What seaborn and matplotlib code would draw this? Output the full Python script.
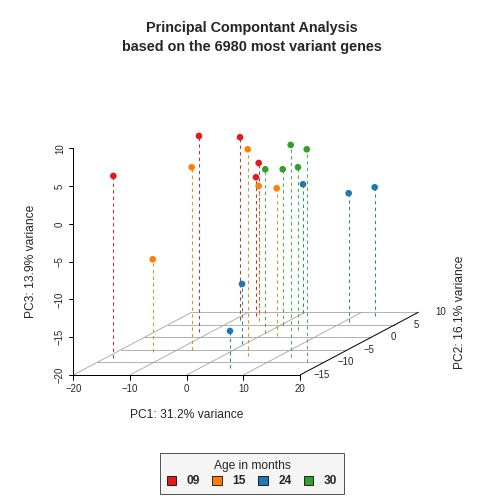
import matplotlib
matplotlib.use("Agg")
import matplotlib.pyplot as plt
from matplotlib.patches import Patch
import pandas as pd
import seaborn as sns

# PCA scores (scatterplot3d style, type="h")
age = ["09", "15", "15", "09", "09", "15", "24", "24", "09", "09",
       "15", "30", "15", "30", "30", "30", "24", "30", "24", "24"]
pc1 = [-18.5, -13.75, -7.44, -12.25, -8.91, 4.44, -0.57, 5.31, -7.94, -7.42,
       -5.28, -0.02, 2.89, 0.29, 12.36, 4.65, -0.03, 16.85, 10.83, 13.52]
pc2 = [-8.34, -5.71, -5.03, 2.27, 6.94, -7.42, -2.63, -12.21, 9.73, 8.53,
       6.54, 1.63, 0.56, 4.94, -7.82, 2.95, 9.61, -9.81, 6.26, 8.53]
pc3 = [4.13, -7.77, 4.18, 5.9, 4.18, 7.36, -12.06, -15.1, -0.15, -1.64,
       -2.13, 1.70, -0.45, 0.61, 8.06, 1.53, -2.93, 8.15, -3.0, -2.97]

age_levels = ["09", "15", "24", "30"]
point_colors = {"09": "#e31a1c", "15": "#ff7f00", "24": "#1f78b4", "30": "#33a02c"}
line_colors = {"09": "#a83c3c", "15": "#c99a2e", "24": "#2f8a8e", "30": "#4fae4f"}

x_ticks = [-20, -10, 0, 10, 20]
y_ticks = [-15, -10, -5, 0, 5, 10]
z_ticks = [-20, -15, -10, -5, 0, 5, 10]

title = "Principal Compontant Analysis\nbased on the 6980 most variant genes"
xlab = "PC1: 31.2% variance"
ylab = "PC2: 16.1% variance"
zlab = "PC3: 13.9% variance"

# oblique projection: y axis goes back and up
KX = 0.835
KZ = 0.332
Y0 = y_ticks[0]
Z0 = z_ticks[0]


def project(x, y, z):
    return x + (y - Y0) * KX, z + (y - Y0) * KZ


def fmt(v):
    return str(v).replace("-", "\u2212")


sns.set_style("white")
plt.rcParams["font.family"] = ["Liberation Sans", "DejaVu Sans"]

fig = plt.figure(figsize=(7, 7), dpi=72)
ax = fig.add_axes([73.33 / 504, 1 - 375 / 504, 345 / 504, 226.7 / 504])
ax.set_xlim(x_ticks[0], x_ticks[-1] + (y_ticks[-1] - Y0) * KX)
ax.set_ylim(z_ticks[0], z_ticks[-1])
ax.axis("off")

grid_kw = dict(color="#a0a0a0", lw=0.8, zorder=1)
# floor grid
for xv in x_ticks[:-1]:
    a = project(xv, y_ticks[0], Z0)
    b = project(xv, y_ticks[-1], Z0)
    ax.plot([a[0], b[0]], [a[1], b[1]], **grid_kw)
for yv in y_ticks[1:]:
    a = project(x_ticks[0], yv, Z0)
    b = project(x_ticks[-1], yv, Z0)
    ax.plot([a[0], b[0]], [a[1], b[1]], **grid_kw)

axis_kw = dict(color="black", lw=1.0, zorder=2, clip_on=False)
# x axis, y axis, z axis
ax.plot([x_ticks[0], x_ticks[-1]], [Z0, Z0], **axis_kw)
a = project(x_ticks[-1], y_ticks[0], Z0)
b = project(x_ticks[-1], y_ticks[-1], Z0)
ax.plot([a[0], b[0]], [a[1], b[1]], **axis_kw)
ax.plot([x_ticks[0], x_ticks[0]], [z_ticks[0], z_ticks[-1]], **axis_kw)

tick_fs = 9.6
for xv in x_ticks:
    ax.plot([xv, xv], [Z0, Z0 - 4.5 / 7.556], **axis_kw)
    ax.annotate(fmt(xv), (xv, Z0), xytext=(0, -13.5), textcoords="offset points",
                ha="center", va="center", fontsize=tick_fs)
for zv in z_ticks:
    ax.plot([x_ticks[0], x_ticks[0] - 4.5 / 5.667], [zv, zv], **axis_kw)
    ax.annotate(fmt(zv), (x_ticks[0], zv), xytext=(-13.5, 0), textcoords="offset points",
                ha="center", va="center", fontsize=tick_fs, rotation=90)
for yv in y_ticks:
    ax.annotate(fmt(yv), project(x_ticks[-1], yv, Z0), xytext=(22, 0),
                textcoords="offset points", ha="center", va="center", fontsize=tick_fs)

# points and drop lines
df = pd.DataFrame({"age": age, "pc1": pc1, "pc2": pc2, "pc3": pc3})
df["px"], df["pz"] = project(df["pc1"], df["pc2"], df["pc3"])
df["floor"] = project(df["pc1"], df["pc2"], Z0)[1]

for _, row in df.iterrows():
    ax.plot([row["px"], row["px"]], [row["floor"], row["pz"]],
            color=line_colors[row["age"]], lw=1.1, ls=(0, (3, 3)), zorder=3, clip_on=False)

sns.scatterplot(data=df, x="px", y="pz", hue="age", hue_order=age_levels,
                palette=point_colors, s=44, linewidth=0, legend=False,
                ax=ax, zorder=4, clip_on=False)
ax.set_xlabel("")
ax.set_ylabel("")

# labels
fig.text(252 / 504, 1 - 37.5 / 504, title, ha="center", va="center",
         fontsize=14.4, fontweight="bold", linespacing=1.4)
fig.text(186.5 / 504, 1 - 415 / 504, xlab, ha="center", va="center", fontsize=12)
fig.text(30.7 / 504, 1 - 261.7 / 504, zlab, ha="center", va="center", fontsize=12, rotation=90)
fig.text(460 / 504, 1 - 312.5 / 504, ylab, ha="center", va="center", fontsize=12, rotation=90)

handles = [Patch(facecolor=point_colors[a], edgecolor="black", lw=0.8) for a in age_levels]
leg = fig.legend(handles, age_levels, loc="center", bbox_to_anchor=(252 / 504, 1 - 473.5 / 504),
                 ncol=4, title="Age in months", frameon=True, fancybox=False,
                 edgecolor="#555555", facecolor="#f5f5f5", framealpha=1,
                 prop={"weight": "bold", "size": 12}, title_fontsize=12,
                 handlelength=0.8, handleheight=0.8, handletextpad=0.9,
                 columnspacing=1.0, borderpad=0.55, labelspacing=0.3)
leg.get_frame().set_linewidth(1.0)

fig.savefig("out.png", dpi=72)
